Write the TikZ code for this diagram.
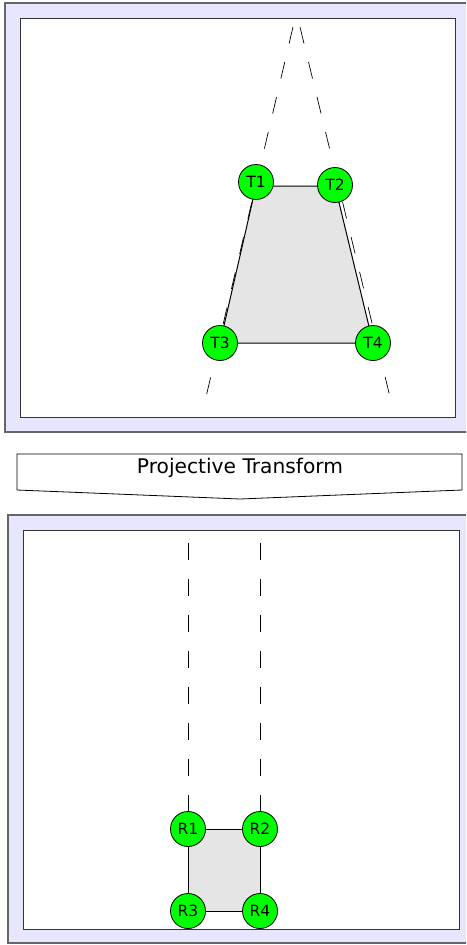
\documentclass[tikz,border=0pt]{standalone}
\usepackage{fontspec}
\setmainfont{DejaVu Sans}
\begin{document}
\begin{tikzpicture}[x=1pt,y=-1pt,
  frame/.style={draw=black!60,fill={rgb,255:red,230;green,230;blue,255},line width=1.2pt},
  panel/.style={draw=black!80,fill=white,line width=0.9pt},
  corner/.style={circle,draw=black,line width=0.8pt,fill={rgb,255:red,0;green,255;blue,0},minimum size=35pt,inner sep=0pt,font=\fontsize{15.5}{18}\selectfont},
  quad/.style={draw=black,fill=black!10,line width=1pt},
  guide/.style={draw=black,line width=0.7pt,dash pattern=on 17pt off 19pt},
  edge/.style={draw=black,line width=0.8pt}]
\useasboundingbox (0,0) rectangle (466,945);
\clip (0,0) rectangle (466,945);
% top panel
\draw[frame] (5,3) rectangle (475,432);
\draw[panel] (20,18) rectangle (455,417);
\coordinate (lt) at (293,27);
\coordinate (lb) at (206,397);
\coordinate (rt) at (300,27);
\coordinate (rb) at (390,397);
\draw[guide] (lt) -- (lb);
\draw[guide] (rt) -- (rb);
\coordinate (c1) at (256,186);
\coordinate (c2) at (335,186);
\coordinate (c3) at (220,343);
\coordinate (c4) at (373,343);
\draw[quad] (c1) -- (c2) -- (c4) -- (c3) -- cycle;
\node[corner] (T1) at (256,182) {T1};
\node[corner] (T2) at (335,185) {T2};
\node[corner] (T3) at (220,343) {T3};
\node[corner] (T4) at (373,343) {T4};
% arrow
\draw[edge,fill=white] (17,454) -- (462,454) -- (462,490) -- (240,499) -- (17,490) -- cycle;
\node[font=\fontsize{20.2}{24}\selectfont] (label) at (240,468) {Projective Transform};
% bottom panel
\draw[frame] (8,515) rectangle (475,943);
\draw[panel] (23,530) rectangle (459,929);
\coordinate (l1) at (188,543);
\coordinate (l2) at (188,812);
\coordinate (r1) at (260,543);
\coordinate (r2) at (260,812);
\draw[guide] (l1) -- (l2);
\draw[guide] (r1) -- (r2);
\coordinate (d1) at (188,829);
\coordinate (d2) at (260,829);
\coordinate (d3) at (188,911);
\coordinate (d4) at (260,911);
\draw[quad] (d1) -- (d2) -- (d4) -- (d3) -- cycle;
\node[corner] (R1) at (d1) {R1};
\node[corner] (R2) at (d2) {R2};
\node[corner] (R3) at (d3) {R3};
\node[corner] (R4) at (d4) {R4};
\end{tikzpicture}
\end{document}
